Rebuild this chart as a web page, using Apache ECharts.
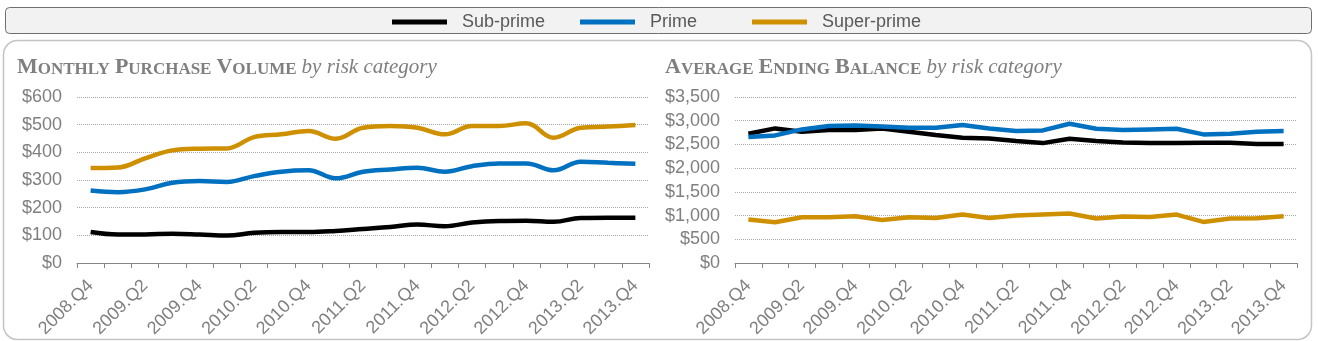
<!DOCTYPE html>
<html>
<head>
<meta charset="utf-8">
<script src="https://cdn.jsdelivr.net/npm/echarts@6/dist/echarts.min.js"></script>
<style>
html,body{margin:0;padding:0;background:#fff;}
#c{width:1318px;height:341px;}
</style>
</head>
<body>
<div id="c"></div>
<script>
var quarters = ['2008.Q4','2009.Q1','2009.Q2','2009.Q3','2009.Q4','2010.Q1','2010.Q2','2010.Q3','2010.Q4','2011.Q1','2011.Q2','2011.Q3','2011.Q4','2012.Q1','2012.Q2','2012.Q3','2012.Q4','2013.Q1','2013.Q2','2013.Q3','2013.Q4'];

var volSubprime   = [112,103,103,106,103,99,109,112,112,116,123,130,139,133,146,152,153,149,163,164,164];
var volPrime      = [262,256,266,290,296,293,314,330,335,306,330,338,344,330,350,360,360,335,366,362,359];
var volSuperprime = [343,345,378,407,413,414,455,465,477,449,489,495,489,465,495,495,505,453,489,493,499];

var balSubprime   = [2725,2838,2768,2803,2803,2838,2768,2697,2641,2627,2570,2528,2620,2570,2542,2528,2528,2535,2535,2507,2507];
var balPrime      = [2655,2690,2817,2887,2901,2880,2852,2852,2908,2838,2782,2796,2937,2831,2803,2817,2831,2711,2725,2768,2782];
var balSuperprime = [915,859,965,965,986,908,965,951,1021,951,1000,1021,1042,937,979,972,1021,866,937,944,986];

var seriesNames = ['Sub-prime','Prime','Super-prime'];
var seriesColors = ['#000000','#0070c0','#cf9000'];

var chart = echarts.init(document.getElementById('c'), null, {renderer:'canvas'});

var sans = '"Liberation Sans", Arial, sans-serif';
var serif = '"Liberation Serif", "Times New Roman", serif';
var gray = '#7f7f7f';

function titleRich(){
  return {
    b:{fontSize:22,fontWeight:'bold',fontFamily:serif,color:gray,lineHeight:22,verticalAlign:'bottom'},
    s:{fontSize:17,fontWeight:'bold',fontFamily:serif,color:gray,lineHeight:22,verticalAlign:'bottom'},
    i:{fontSize:21,fontWeight:'normal',fontStyle:'italic',fontFamily:serif,color:gray,lineHeight:22,verticalAlign:'bottom'}
  };
}

function xAxisCfg(gi){
  return {
    type:'category', gridIndex:gi, data:quarters, boundaryGap:true,
    axisLine:{lineStyle:{color:'#868686',width:1}},
    axisTick:{show:true,interval:0,length:5,lineStyle:{color:'#868686'}},
    axisLabel:{interval:1,rotate:45,fontSize:18,fontFamily:sans,color:gray,margin:20},
    splitLine:{show:false}
  };
}
function yAxisCfg(gi,max,interval,fmt){
  return {
    type:'value', gridIndex:gi, min:0, max:max, interval:interval,
    axisLine:{show:false}, axisTick:{show:false},
    axisLabel:{fontSize:18,fontFamily:sans,color:gray,margin:15,formatter:fmt},
    splitLine:{lineStyle:{color:'#a6a6a6',type:'dotted',width:1}}
  };
}
function fmtMoney(v){ return '$' + v.toLocaleString('en-US'); }

var volData = [volSubprime, volPrime, volSuperprime];
var balData = [balSubprime, balPrime, balSuperprime];
var series = [];
for (var k=0;k<3;k++){
  series.push({name:seriesNames[k],type:'line',xAxisIndex:0,yAxisIndex:0,data:volData[k],smooth:0.4,
    showSymbol:false,lineStyle:{color:seriesColors[k],width:4.5},itemStyle:{color:seriesColors[k]},z:3+k});
}
for (var k=0;k<3;k++){
  series.push({name:seriesNames[k],type:'line',xAxisIndex:1,yAxisIndex:1,data:balData[k],smooth:false,
    showSymbol:false,lineStyle:{color:seriesColors[k],width:4.5,join:'round'},itemStyle:{color:seriesColors[k]},z:3+k});
}

function legendCfg(name,left){
  return {
    data:[name], left:left, top:8, icon:'rect', itemWidth:55, itemHeight:5,
    selectedMode:false,
    textStyle:{fontSize:18,fontFamily:sans,color:'#595959',padding:[0,0,0,10]}
  };
}

chart.setOption({
  animation:false,
  backgroundColor:'#ffffff',
  graphic:[
    {type:'rect',z:-10,shape:{x:5.5,y:7.5,width:1306,height:26,r:4},style:{fill:'#f2f2f2',stroke:'#6f6f6f',lineWidth:1}},
    {type:'rect',z:-10,shape:{x:3.5,y:40.5,width:1308,height:299,r:14},style:{fill:'none',stroke:'#c4c4c4',lineWidth:1.5}}
  ],
  legend:[legendCfg('Sub-prime',387),legendCfg('Prime',575),legendCfg('Super-prime',747)],
  title:[
    {left:12,top:51,text:'{b|M}{s|ONTHLY} {b|P}{s|URCHASE} {b|V}{s|OLUME} {i|by risk category}',textStyle:{rich:titleRich()}},
    {left:660,top:51,text:'{b|A}{s|VERAGE} {b|E}{s|NDING} {b|B}{s|ALANCE} {i|by risk category}',textStyle:{rich:titleRich()}}
  ],
  grid:[
    {left:77,top:97,width:572,height:166},
    {left:735,top:97,width:562,height:166}
  ],
  xAxis:[xAxisCfg(0),xAxisCfg(1)],
  yAxis:[yAxisCfg(0,600,100,fmtMoney),yAxisCfg(1,3500,500,fmtMoney)],
  series:series
});
</script>
</body>
</html>
